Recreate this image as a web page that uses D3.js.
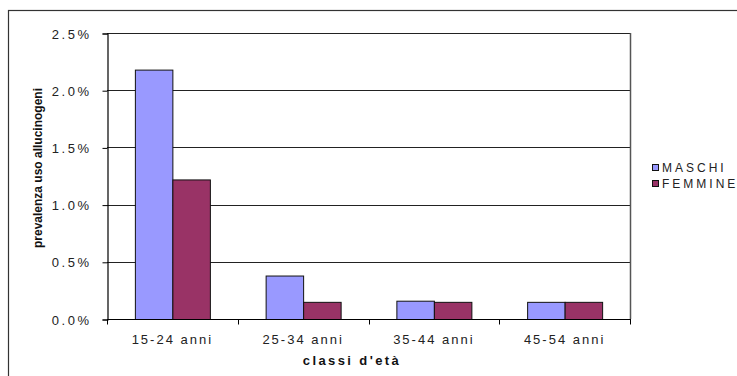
<!DOCTYPE html>
<html>
<head>
<meta charset="utf-8">
<script src="https://cdn.jsdelivr.net/npm/d3@7"></script>
<style>
  html, body { margin: 0; padding: 0; background: #fff; }
  svg { display: block; font-family: "Liberation Sans", Arial, sans-serif; }
</style>
</head>
<body>
<svg id="chart" width="737" height="376"></svg>
<script>
// Age classes and prevalence of hallucinogen use (fraction) by sex
const categories = ["15-24 anni", "25-34 anni", "35-44 anni", "45-54 anni"];
const series = ["MASCHI", "FEMMINE"];
const maschi = [0.0218, 0.0038, 0.0016, 0.0015];
const femmine = [0.0122, 0.0015, 0.0015, 0.0015];
const yTicks = [0, 0.005, 0.01, 0.015, 0.02, 0.025];
const colors = ["#9999FF", "#993366"];

const svg = d3.select("#chart");

// outer chart frame
svg.append("rect")
  .attr("x", 8.5).attr("y", 10.5)
  .attr("width", 740).attr("height", 380)
  .attr("fill", "none").attr("stroke", "#333").attr("stroke-width", 1.2);

const plot = { left: 107, right: 630, top: 33, bottom: 319 };

const x = d3.scaleBand().domain(categories).range([plot.left, plot.right]).paddingInner(0).paddingOuter(0);
const y = d3.scaleLinear().domain([0, 0.025]).range([plot.bottom, plot.top]);
const xs = d3.scaleBand().domain(series).range([0, x.bandwidth()]).paddingInner(0).paddingOuter(0.5 * (130.75 - 75) / 37.5);

// horizontal gridlines
svg.append("g")
  .selectAll("line")
  .data(yTicks.filter(d => d > 0))
  .join("line")
  .attr("x1", plot.left).attr("x2", plot.right)
  .attr("y1", d => Math.round(y(d)) + 0.5).attr("y2", d => Math.round(y(d)) + 0.5)
  .attr("stroke", "#222").attr("stroke-width", 1);

// right border of plot area
svg.append("line")
  .attr("x1", plot.right + 0.5).attr("x2", plot.right + 0.5)
  .attr("y1", plot.top).attr("y2", plot.bottom)
  .attr("stroke", "#555").attr("stroke-width", 1.5);

// bars
const rows = categories.map((c, i) => ({ cat: c, vals: [maschi[i], femmine[i]] }));
svg.append("g")
  .selectAll("g")
  .data(rows)
  .join("g")
  .attr("transform", d => `translate(${x(d.cat)},0)`)
  .selectAll("rect")
  .data(d => d.vals.map((v, j) => ({ key: series[j], v, j })))
  .join("rect")
  .attr("x", d => xs(d.key) + 0.5)
  .attr("y", d => y(d.v) + 0.5)
  .attr("width", xs.bandwidth())
  .attr("height", d => y(0) - y(d.v))
  .attr("fill", d => colors[d.j])
  .attr("stroke", "#111").attr("stroke-width", 1);

// y axis
const yAxis = d3.axisLeft(y).tickValues(yTicks).tickSize(5).tickPadding(11)
  .tickFormat(d3.format(".1%"));
const gy = svg.append("g").attr("transform", `translate(${plot.left + 0.5},0.5)`).call(yAxis);
gy.select(".domain").attr("stroke", "#000").attr("stroke-width", 1.2);
gy.selectAll(".tick line").attr("stroke", "#000");
gy.selectAll(".tick text")
  .attr("font-size", 13).attr("fill", "#222")
  .style("letter-spacing", "2.5px")
  .attr("dy", "0.35em");

// x axis with ticks at category boundaries
const gx = svg.append("g").attr("transform", `translate(0,${plot.bottom + 0.5})`);
gx.append("line")
  .attr("x1", plot.left).attr("x2", plot.right + 1)
  .attr("stroke", "#000").attr("stroke-width", 1.2);
const bounds = categories.map(c => x(c)).concat([x(categories[categories.length - 1]) + x.bandwidth()]);
gx.selectAll("line.tick")
  .data(bounds)
  .join("line").attr("class", "tick")
  .attr("x1", d => Math.round(d) + 0.5).attr("x2", d => Math.round(d) + 0.5)
  .attr("y1", 0).attr("y2", 5)
  .attr("stroke", "#000");
gx.selectAll("text")
  .data(categories)
  .join("text")
  .attr("x", d => x(d) + x.bandwidth() / 2)
  .attr("y", 24)
  .attr("text-anchor", "middle")
  .attr("font-size", 13).attr("fill", "#222")
  .style("letter-spacing", "2px")
  .text(d => d);

// axis titles
svg.append("text")
  .attr("x", 352).attr("y", 365)
  .attr("text-anchor", "middle")
  .attr("font-size", 13).attr("font-weight", "bold").attr("fill", "#111")
  .style("letter-spacing", "2.4px")
  .text("classi d'età");

svg.append("text")
  .attr("transform", "translate(42,168) rotate(-90)")
  .attr("text-anchor", "middle")
  .attr("font-size", 12).attr("font-weight", "bold").attr("fill", "#111")
  .text("prevalenza uso allucinogeni");

// legend
const legend = svg.append("g").attr("transform", "translate(652,164)");
const li = legend.selectAll("g").data(series).join("g")
  .attr("transform", (d, i) => `translate(0,${i * 16})`);
li.append("rect")
  .attr("x", 0.5).attr("y", 0.5).attr("width", 6).attr("height", 6)
  .attr("fill", (d, i) => colors[i]).attr("stroke", "#111").attr("stroke-width", 1);
li.append("text")
  .attr("x", 10).attr("y", 7.5)
  .attr("font-size", 12).attr("fill", "#222")
  .style("letter-spacing", "3px")
  .text(d => d);
</script>
</body>
</html>
